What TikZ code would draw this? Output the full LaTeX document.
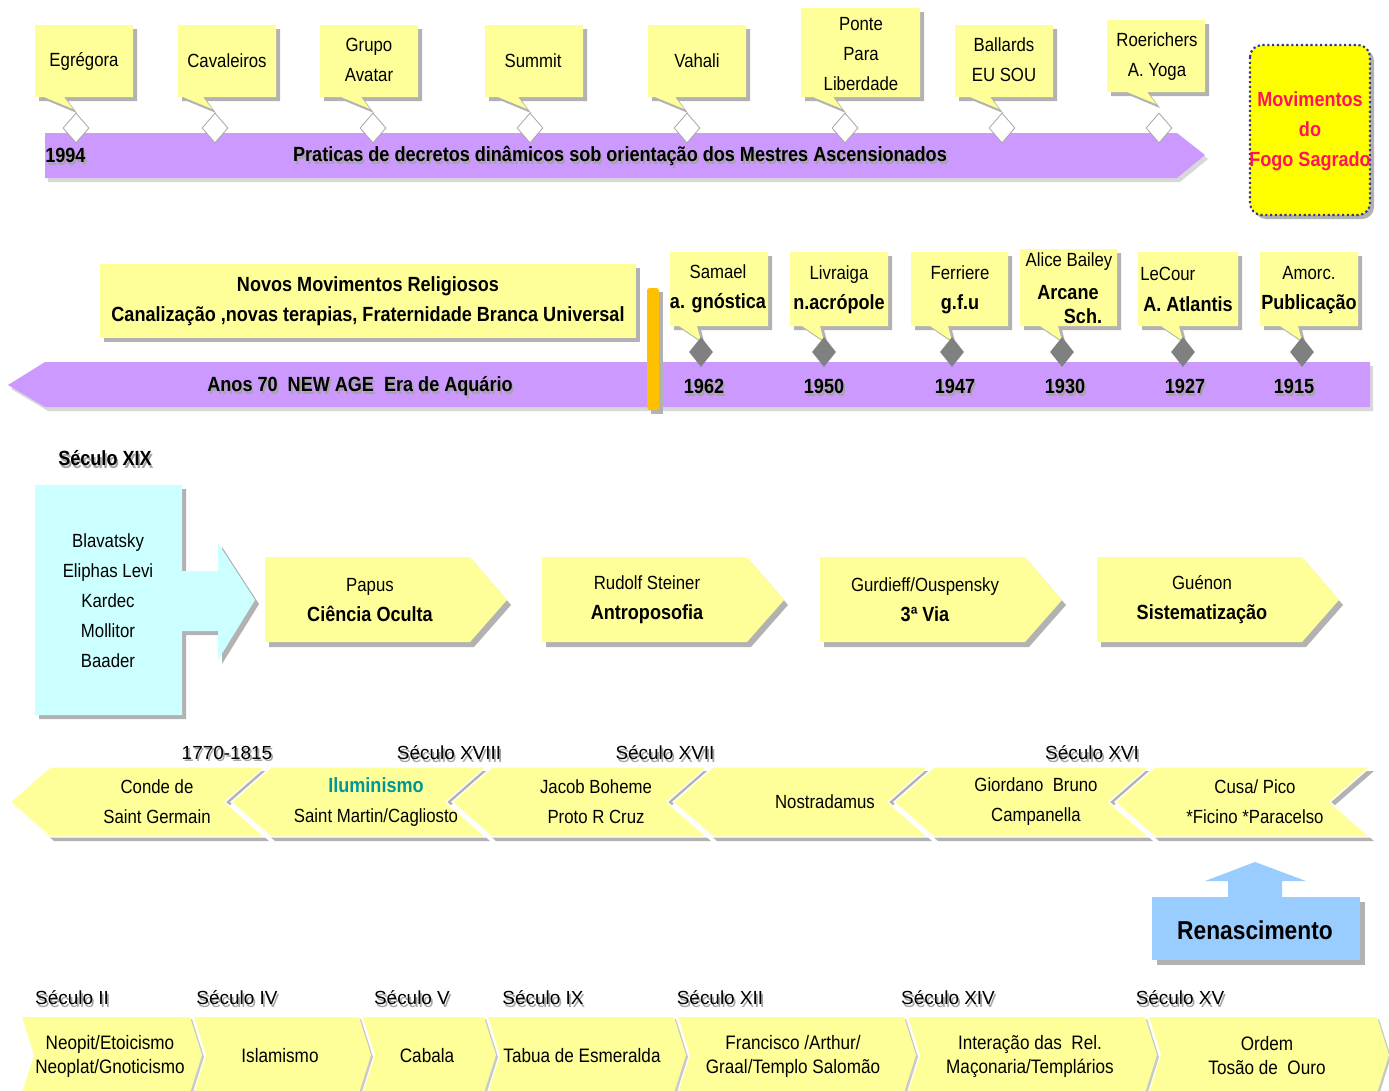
\documentclass[tikz,border=0pt]{standalone}
\usepackage{fontspec}
\setmainfont{Liberation Sans}[FakeStretch=0.88]
\newfontfamily\arialf{Liberation Sans}
\usetikzlibrary{shapes.geometric}
\definecolor{cYel}{RGB}{255,255,153}
\definecolor{cYel2}{RGB}{255,255,0}
\definecolor{cShad}{RGB}{178,178,178}
\definecolor{cShadT}{RGB}{165,165,165}
\definecolor{cPurp}{RGB}{204,153,255}
\definecolor{cCyan}{RGB}{204,255,255}
\definecolor{cBlue}{RGB}{153,204,255}
\definecolor{cGold}{RGB}{255,192,0}
\definecolor{cRed}{RGB}{255,20,90}
\definecolor{cTeal}{RGB}{0,150,150}
\definecolor{cDot}{RGB}{51,51,153}
\definecolor{cDia}{RGB}{128,128,128}
\newcommand{\fr}{\fontsize{14.3pt}{22.5pt}\selectfont}
\newcommand{\fbd}{\fontsize{15.4pt}{22.5pt}\selectfont\bfseries}
\newcommand{\bb}[1]{{\fbd #1}}
\newcommand{\fsm}{\fontsize{14.6pt}{18pt}\selectfont}
\newcommand{\fsec}{\arialf\fontsize{14.2pt}{18pt}\selectfont}
\newcommand{\shd}[1]{\leavevmode\rlap{\kern1.3pt\raisebox{-2.2pt}{\textcolor{cShadT}{#1}}}#1}
\newcommand{\callout}[8]{%
 \fill[cShad,shift={(4,4)}] (#1,#2) -- (#3,#2) -- (#3,#4) -- (#6,#4) -- (#7,#8) -- (#5,#4) -- (#1,#4) -- cycle;
 \fill[cYel] (#1,#2) -- (#3,#2) -- (#3,#4) -- (#6,#4) -- (#7,#8) -- (#5,#4) -- (#1,#4) -- cycle;}
\newcommand{\lchev}[1]{%
 \fill[cShad,shift={(4,4)}] (#1,802) -- ++(40,-35) -- ++(215,0) -- ++(-40,35) -- ++(40,35) -- ++(-215,0) -- cycle;
 \filldraw[fill=cYel, draw=white, line width=1pt] (#1,802) -- ++(40,-35) -- ++(215,0) -- ++(-40,35) -- ++(40,35) -- ++(-215,0) -- cycle;}
\newcommand{\pent}[1]{%
 \fill[cShad,shift={(4,5)}] (#1,557) -- ++(205,0) -- ++(37,43) -- ++(-37,42) -- ++(-205,0) -- cycle;
 \fill[cYel] (#1,557) -- ++(205,0) -- ++(37,43) -- ++(-37,42) -- ++(-205,0) -- cycle;}
\newcommand{\bchev}[2]{%
 \fill[cShad!70,shift={(2,2)}] (#1,1017) -- (#2,1017) -- ++(12,38) -- ++(-12,38) -- (#1,1093) -- ++(12,-38) -- cycle;
 \fill[cYel] (#1,1017) -- (#2,1017) -- ++(12,38) -- ++(-12,38) -- (#1,1093) -- ++(12,-38) -- cycle;}
\begin{document}
\begin{tikzpicture}[x=0.75pt,y=-0.75pt,
  txt/.style={inner sep=0pt, align=center, font=\fr},
  btxt/.style={inner sep=0pt, align=center, font=\fbd},
  stxt/.style={inner sep=0pt, align=center, font=\fsm},
  sec/.style={inner sep=0pt, align=center, font=\fsec},
  wdia/.style={diamond, inner sep=0pt, minimum width=19.5pt, minimum height=22.5pt, fill=white, draw=gray!70, line width=0.6pt},
  gdia/.style={diamond, inner sep=0pt, minimum width=18pt, minimum height=22.5pt, fill=cDia},
]
\useasboundingbox (0,0) rectangle (1389,1090);
\fill[white] (0,0) rectangle (1389,1090);

% ---------- Row 1 ----------
\fill[cShad!50,shift={(3,4)}] (45,133) -- (1177,133) -- (1205,155) -- (1177,178) -- (45,178) -- cycle;
\fill[cPurp] (45,133) -- (1177,133) -- (1205,155) -- (1177,178) -- (45,178) -- cycle;
\callout{35}{25}{133}{97}{44}{64}{73}{109}
\callout{178}{25}{276}{97}{183}{203}{212}{109}
\callout{320}{25}{418}{97}{341}{361}{370}{109}
\callout{485}{25}{583}{97}{498}{518}{527}{109}
\callout{648}{25}{746}{97}{655}{675}{684}{109}
\callout{801}{8}{920}{97}{813}{833}{842}{109}
\callout{955}{25}{1053}{97}{970}{990}{999}{109}
\callout{1107}{20}{1205}{92}{1127}{1147}{1156}{104}
\foreach \n/\xx in {1/76,2/215,3/373,4/530,5/687,6/845,7/1002,8/1159}
  \node[wdia] (wd\n) at (\xx,128) {};
\node[txt] (t1) at (84,61) {Egrégora};
\node[txt] (t2) at (227,61) {Cavaleiros};
\node[txt] (t3) at (369,60) {Grupo\\Avatar};
\node[txt] (t4) at (533,61) {Summit};
\node[txt] (t5) at (697,61) {Vahali};
\node[txt] (t6) at (861,54) {Ponte\\Para\\Liberdade};
\node[txt] (t7) at (1004,60) {Ballards\\EU SOU};
\node[txt] (t8) at (1157,57) {Roerichers\\A. Yoga};
\node[btxt, anchor=west] (y1994) at (45,157) {\shd{1994}};
\node[btxt] (prat) at (620,157) {\shd{Praticas de decretos dinâmicos sob orientação dos Mestres Ascensionados}};

% Fogo Sagrado box
\fill[cShad, rounded corners=9pt] (1254,49) rectangle (1374,219);
\draw[cDot, fill=cYel2, dotted, line width=1.6pt, rounded corners=9pt] (1250,45) rectangle (1370,215);
\node[btxt, text=cRed] (mov) at (1310,131) {Movimentos\\do\\Fogo Sagrado};

% ---------- Row 2 ----------
\fill[cShad!50,shift={(3,4)}] (1370,362) -- (45,362) -- (8,385) -- (45,407) -- (1370,407) -- cycle;
\fill[cPurp] (1370,362) -- (45,362) -- (8,385) -- (45,407) -- (1370,407) -- cycle;
\fill[cShad] (104,268) rectangle (640,342);
\fill[cYel] (100,264) rectangle (636,338);
\fill[cShad] (651,292) rectangle (663,414);
\fill[cGold, rounded corners=2pt] (647,288) rectangle (659,410);
\callout{670}{252}{768}{326}{679}{697}{701}{341}
\callout{790}{252}{888}{326}{802}{820}{824}{341}
\callout{911}{252}{1008}{326}{930}{948}{952}{341}
\callout{1020}{249}{1117}{326}{1040}{1058}{1062}{341}
\callout{1138}{252}{1238}{326}{1161}{1179}{1183}{341}
\callout{1260}{252}{1358}{326}{1280}{1298}{1302}{341}
\foreach \n/\xx in {1/701,2/824,3/952,4/1062,5/1183,6/1302}
  \node[gdia] (gd\n) at (\xx,352) {};
\node[btxt] (nmr) at (368,301) {Novos Movimentos Religiosos\\Canalização ,novas terapias, Fraternidade Branca Universal};
\node[btxt] (newage) at (360,388) {\shd{Anos 70~ NEW AGE~ Era de Aquário}};
\node[txt] (s1) at (718,289) {Samael\\\bb{a. gnóstica}};
\node[txt] (s2) at (839,290) {Livraiga\\\bb{n.acrópole}};
\node[txt] (s3) at (960,290) {Ferriere\\\bb{g.f.u}};
\node[txt] (s4a) at (1069,262) {Alice Bailey};
\node[btxt] (s4b) at (1068,293) {Arcane};
\node[btxt] (s4c) at (1083,316) {Sch.};
\node[txt, anchor=west] (s5a) at (1140,274) {LeCour};
\node[btxt] (s5b) at (1188,304) {A. Atlantis};
\node[txt] (s6) at (1309,290) {Amorc.\\\bb{Publicação}};
\foreach \n/\xx/\yr in {1/704/1962,2/824/1950,3/955/1947,4/1065/1930,5/1185/1927,6/1294/1915}
  \node[btxt] (yr\n) at (\xx,388) {\shd{\yr}};

% ---------- Row 3 ----------
\node[btxt] (sxix) at (105,460) {\shd{Século XIX}};
\fill[cShad,shift={(4,4)}] (35,485) -- (182,485) -- (182,571) -- (218,571) -- (218,543) -- (255,600) -- (218,660) -- (218,631) -- (182,631) -- (182,715) -- (35,715) -- cycle;
\fill[cCyan] (35,485) -- (182,485) -- (182,571) -- (218,571) -- (218,543) -- (255,600) -- (218,660) -- (218,631) -- (182,631) -- (182,715) -- (35,715) -- cycle;
\node[txt] (xix) at (108,601) {Blavatsky\\Eliphas Levi\\Kardec\\Mollitor\\Baader};
\pent{265}
\pent{542}
\pent{820}
\pent{1097}
\node[txt] (p1) at (370,600) {Papus\\\bb{Ciência Oculta}};
\node[txt] (p2) at (647,600) {Rudolf Steiner\\\bb{Antroposofia}};
\node[txt] (p3) at (925,600) {Gurdieff/Ouspensky\\\bb{3ª Via}};
\node[txt] (p4) at (1202,600) {Guénon\\\bb{Sistematização}};

% ---------- Row 4 ----------
\node[sec] (l1) at (227,754) {\shd{1770-1815}};
\node[sec] (l2) at (449,754) {\shd{Século XVIII}};
\node[sec] (l3) at (665,754) {\shd{Século XVII}};
\node[sec] (l4) at (1092,754) {\shd{Século XVI}};
\lchev{10}
\lchev{231}
\lchev{452}
\lchev{673}
\lchev{894}
\lchev{1115}
\node[txt] (c1) at (157,802) {Conde de\\Saint Germain};
\node[txt] (c2) at (376,802) {\textcolor{cTeal}{\bb{Iluminismo}}\\Saint Martin/Cagliosto};
\node[txt] (c3) at (596,802) {Jacob Boheme\\Proto R Cruz};
\node[txt] (c4) at (825,802) {Nostradamus};
\node[txt] (c5) at (1036,802) {Giordano~ Bruno\\Campanella};
\node[txt] (c6) at (1255,802) {Cusa/ Pico\\*Ficino *Paracelso};

% Renascimento
\fill[cShad] (1157,902) rectangle (1365,965);
\fill[cBlue] (1152,897) rectangle (1360,960);
\fill[cBlue] (1228,898) -- (1228,881) -- (1205,881) -- (1255,862) -- (1306,881) -- (1282,881) -- (1282,898) -- cycle;
\node[txt, font=\fontsize{19.4pt}{22pt}\selectfont\bfseries] (ren) at (1255,930) {Renascimento};

% ---------- Row 5 ----------
\node[sec] (b1) at (72,999) {\shd{Século II}};
\node[sec] (b2) at (237,999) {\shd{Século IV}};
\node[sec] (b3) at (412,999) {\shd{Século V}};
\node[sec] (b4) at (543,999) {\shd{Século IX}};
\node[sec] (b5) at (720,999) {\shd{Século XII}};
\node[sec] (b6) at (948,999) {\shd{Século XIV}};
\node[sec] (b7) at (1180,999) {\shd{Século XV}};
\bchev{22}{190}
\bchev{194}{359}
\bchev{363}{484}
\bchev{488}{674}
\bchev{678}{904}
\bchev{908}{1145}
\bchev{1149}{1377}
\node[stxt] (k1) at (110,1056) {Neopit/Etoicismo\\Neoplat/Gnoticismo};
\node[stxt] (k2) at (280,1056) {Islamismo};
\node[stxt] (k3) at (427,1056) {Cabala};
\node[stxt] (k4) at (582,1056) {Tabua de Esmeralda};
\node[stxt] (k5) at (793,1056) {Francisco /Arthur/\\Graal/Templo Salomão};
\node[stxt] (k6) at (1030,1056) {Interação das~ Rel.\\Maçonaria/Templários};
\node[stxt] (k7) at (1267,1056) {Ordem\\Tosão de~ Ouro};
\end{tikzpicture}
\end{document}
